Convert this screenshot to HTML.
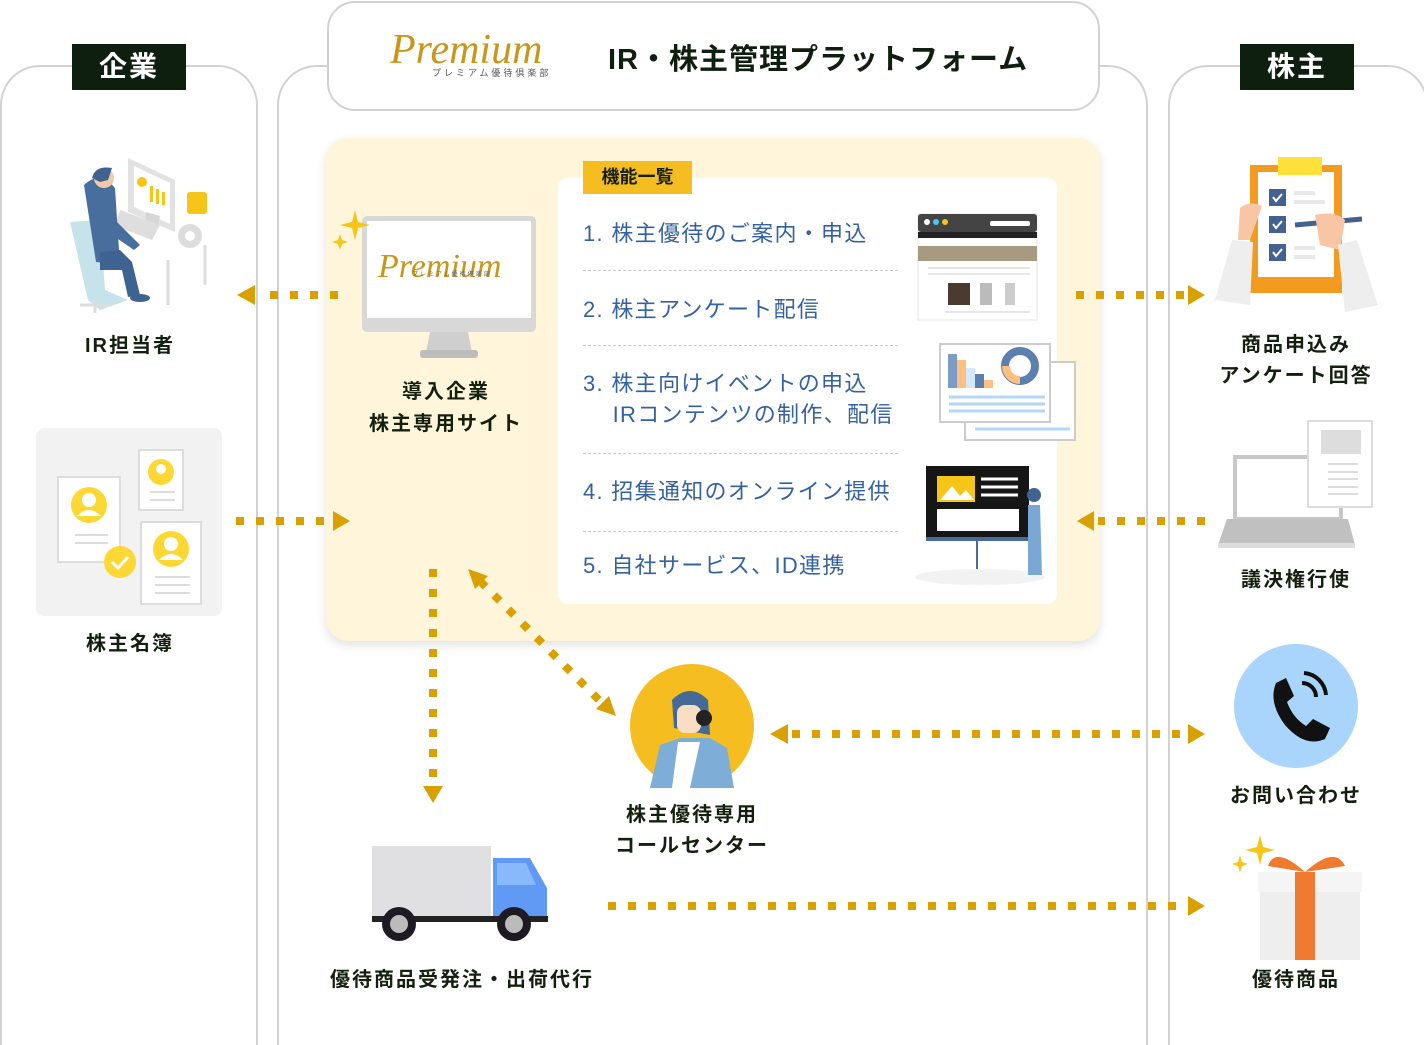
<!DOCTYPE html>
<html><head><meta charset="utf-8"><style>
*{margin:0;padding:0;box-sizing:border-box}
body{width:1424px;height:1040px;position:relative;background:#fff;font-family:"Liberation Sans","Noto Sans CJK JP",sans-serif;overflow:hidden}
.abs{position:absolute}
.col{position:absolute;border:2px solid #d2d2d2;border-bottom:none;border-radius:40px 40px 0 0;background:#fff}
.lbl{position:absolute;background:#0f1f0f;color:#fff;font-size:28px;font-weight:bold;text-align:center;line-height:46px;letter-spacing:2px}
.t{position:absolute;font-size:20px;font-weight:bold;color:#14200f;text-align:center;line-height:32px;letter-spacing:2px;white-space:nowrap}
.it{position:absolute;left:583px;font-size:22px;color:#3461a0;line-height:31px;letter-spacing:1.3px;white-space:nowrap}
.dl{position:absolute;left:583px;width:315px;border-top:1.5px dashed #c8c8c8}
</style></head><body>
<div class="col" style="left:0;top:65px;width:258px;height:980px"></div>
<div class="col" style="left:277px;top:65px;width:871px;height:980px"></div>
<div class="col" style="left:1168px;top:65px;width:260px;height:980px"></div>
<div class="lbl" style="left:72px;top:44px;width:114px">企業</div>
<div class="lbl" style="left:1240px;top:44px;width:114px">株主</div>

<div class="abs" style="left:327px;top:1px;width:773px;height:110px;border:2px solid #d2d2d2;border-radius:28px;background:#fff"></div>
<div class="abs" style="left:390px;top:26px;font-family:'Liberation Serif',serif;font-style:italic;font-size:42px;color:#c9961a;letter-spacing:0px">Premium</div>
<div class="abs" style="left:432px;top:66px;font-size:9px;color:#555;letter-spacing:3px">プレミアム優待倶楽部</div>
<div class="abs" style="left:608px;top:36px;font-size:29px;font-weight:bold;color:#0f1f0f;letter-spacing:1px">IR・株主管理プラットフォーム</div>

<div class="abs" style="left:326px;top:138px;width:774px;height:503px;background:#fff5da;border-radius:22px;box-shadow:0 4px 10px rgba(0,0,0,0.12)"></div>
<div class="abs" style="left:558px;top:178px;width:499px;height:426px;background:#fff;border-radius:10px"></div>
<div class="abs" style="left:583px;top:161px;width:109px;height:33px;background:#f5bd1f;font-size:18px;font-weight:bold;color:#14200f;text-align:center;line-height:33px">機能一覧</div>
<div class="it" style="top:218px">1. 株主優待のご案内・申込</div>
<div class="dl" style="top:270px"></div>
<div class="it" style="top:294px">2. 株主アンケート配信</div>
<div class="dl" style="top:345px"></div>
<div class="it" style="top:368px">3. 株主向けイベントの申込<br>&nbsp;&nbsp;&nbsp;&nbsp;IRコンテンツの制作、配信</div>
<div class="dl" style="top:453px"></div>
<div class="it" style="top:476px">4. 招集通知のオンライン提供</div>
<div class="dl" style="top:531px"></div>
<div class="it" style="top:550px">5. 自社サービス、ID連携</div>

<svg class="abs" style="left:0;top:0" width="1424" height="1040">
<g fill="#d8a000">
<line x1="338" y1="295" x2="258" y2="295" stroke="#d8a000" stroke-width="8" stroke-dasharray="8 12"/>
<polygon points="237,295 255,285 255,305"/>
<line x1="236" y1="521" x2="326" y2="521" stroke="#d8a000" stroke-width="8" stroke-dasharray="8 12"/>
<polygon points="350,521 333,511 333,531"/>
<line x1="1076" y1="295" x2="1186" y2="295" stroke="#d8a000" stroke-width="8" stroke-dasharray="8 12"/>
<polygon points="1205,295 1188,285 1188,305"/>
<line x1="1205" y1="521" x2="1098" y2="521" stroke="#d8a000" stroke-width="8" stroke-dasharray="8 12"/>
<polygon points="1077,521 1094,511 1094,531"/>
<line x1="433" y1="569" x2="433" y2="780" stroke="#d8a000" stroke-width="8" stroke-dasharray="8 12"/>
<polygon points="433,803 423,786 443,786"/>
<line x1="480" y1="581" x2="604" y2="705" stroke="#d8a000" stroke-width="8" stroke-dasharray="8 12"/>
<polygon points="468,569 488,576 475,589"/>
<polygon points="616,716 596,709 609,696"/>
<line x1="792" y1="734" x2="1186" y2="734" stroke="#d8a000" stroke-width="8" stroke-dasharray="8 12"/>
<polygon points="770,734 788,724 788,744"/>
<polygon points="1205,734 1188,724 1188,744"/>
<line x1="608" y1="906" x2="1186" y2="906" stroke="#d8a000" stroke-width="8" stroke-dasharray="8 12"/>
<polygon points="1205,906 1188,896 1188,916"/>
</g>
<!-- IR person -->
<polygon points="128,158 175,180 175,232 128,212" fill="#e2e2e2"/>
<polygon points="134,166 170,183 170,224 134,207" fill="#fff"/>
<circle cx="142" cy="182" r="5" fill="#f5c518"/>
<rect x="150" y="186" width="3" height="16" fill="#f5c518"/><rect x="156" y="189" width="3" height="15" fill="#f5c518"/><rect x="162" y="192" width="3" height="13" fill="#f5c518"/>
<polygon points="146,212 160,216 158,226 146,222" fill="#d6d6d6"/>
<rect x="187" y="192" width="20" height="22" rx="3" fill="#f5c518"/>
<circle cx="190" cy="236" r="12" fill="#ddd"/><circle cx="190" cy="236" r="5" fill="#fff"/>
<polygon points="120,210 160,225 152,240 115,226" fill="#dedede"/>
<path d="M70 222 L100 220 L105 290 L128 300 L100 310 L88 300Z" fill="#c6e2ea"/>
<path d="M84 185 Q100 170 115 188 L120 265 L96 262Z" fill="#486e9e"/>
<path d="M110 215 L140 245 L134 250 L108 232Z" fill="#486e9e"/>
<circle cx="104" cy="178" r="10" fill="#f3c9a8"/><path d="M92 178 Q95 165 112 168 L108 180 L100 182Z" fill="#3f6391"/>
<path d="M100 252 L120 250 L132 262 L140 295 L128 297 L122 270 L100 270Z" fill="#3f6391"/>
<ellipse cx="140" cy="298" rx="10" ry="4" fill="#3f6391"/>
<g stroke="#ddd" stroke-width="3"><line x1="95" y1="300" x2="95" y2="313"/><line x1="80" y1="305" x2="112" y2="305"/><line x1="168" y1="260" x2="168" y2="305"/><line x1="205" y1="245" x2="205" y2="285"/></g>
<!-- shareholder registry -->
<rect x="36" y="428" width="186" height="188" rx="8" fill="#f2f2f2"/>
<rect x="58" y="477" width="62" height="85" fill="#fff" stroke="#ddd" stroke-width="2"/>
<circle cx="89" cy="505" r="18" fill="#fdd835"/><circle cx="89" cy="500" r="7" fill="#fff"/><path d="M77 516 Q89 504 101 516Z" fill="#fff"/>
<rect x="139" y="450" width="44" height="60" fill="#fff" stroke="#ddd" stroke-width="2"/>
<circle cx="161" cy="472" r="13" fill="#fdd835"/><circle cx="161" cy="469" r="5" fill="#fff"/>
<rect x="141" y="522" width="60" height="82" fill="#fff" stroke="#ddd" stroke-width="2"/>
<circle cx="171" cy="549" r="18" fill="#fdd835"/><circle cx="171" cy="544" r="7" fill="#fff"/><path d="M159 560 Q171 548 183 560Z" fill="#fff"/>
<g stroke="#ddd" stroke-width="2"><line x1="75" y1="535" x2="108" y2="535"/><line x1="75" y1="543" x2="108" y2="543"/><line x1="155" y1="577" x2="190" y2="577"/><line x1="155" y1="585" x2="190" y2="585"/><line x1="155" y1="593" x2="190" y2="593"/><line x1="150" y1="492" x2="175" y2="492"/><line x1="150" y1="500" x2="175" y2="500"/></g>
<circle cx="120" cy="562" r="16" fill="#fdd835"/><path d="M112 562 L118 568 L128 557" stroke="#fff" stroke-width="3" fill="none"/>
<!-- monitor -->
<rect x="362" y="216" width="174" height="116" rx="5" fill="#d8d8d8"/>
<rect x="367" y="221" width="164" height="97" fill="#fff"/>
<path d="M430 332 L468 332 L472 352 L426 352Z" fill="#cfcfcf"/>
<rect x="420" y="350" width="58" height="8" rx="3" fill="#bdbdbd"/>
<text x="378" y="277" font-family="Liberation Serif,serif" font-style="italic" font-size="34" fill="#c9961a">Premium</text>
<text x="412" y="276" font-size="6" fill="#666" letter-spacing="2">プレミアム優待倶楽部</text>
<path d="M355 210 L358 222 L370 225 L358 228 L355 240 L352 228 L340 225 L352 222Z" fill="#f5c518"/>
<path d="M340 234 L342 240 L348 242 L342 244 L340 250 L338 244 L332 242 L338 240Z" fill="#f5c518"/>
<!-- browser -->
<rect x="918" y="214" width="119" height="106" fill="#fff" stroke="#e4e4e4"/>
<rect x="918" y="214" width="119" height="18" rx="3" fill="#444"/><rect x="918" y="232" width="119" height="6" fill="#222"/>
<circle cx="927" cy="222" r="3" fill="#fff"/><circle cx="936" cy="222" r="3" fill="#4fc3f7"/><circle cx="945" cy="222" r="3" fill="#f5c518"/>
<rect x="990" y="221" width="40" height="5" rx="2" fill="#fff"/>
<rect x="918" y="246" width="119" height="15" fill="#a89a80"/>
<rect x="948" y="283" width="22" height="22" fill="#4a3a30"/><rect x="980" y="283" width="12" height="22" fill="#bbb"/><rect x="1005" y="283" width="10" height="22" fill="#ccc"/>
<g stroke="#ccc" stroke-width="1"><line x1="928" y1="268" x2="1030" y2="268"/><line x1="928" y1="274" x2="1030" y2="274"/><line x1="945" y1="312" x2="1030" y2="312"/></g>
<!-- charts -->
<rect x="965" y="362" width="110" height="78" fill="#fff" stroke="#ccc" stroke-width="2"/>
<rect x="940" y="344" width="110" height="78" fill="#fff" stroke="#ccc" stroke-width="2"/>
<rect x="948" y="354" width="9" height="34" fill="#7c9cc4"/><rect x="957" y="360" width="9" height="28" fill="#ffbf80"/><rect x="966" y="368" width="9" height="20" fill="#d5e8fb"/><rect x="975" y="374" width="9" height="14" fill="#5b7fae"/><rect x="984" y="380" width="9" height="8" fill="#ffbf80"/>
<circle cx="1020" cy="366" r="15" fill="none" stroke="#5b7fae" stroke-width="8"/><path d="M1006 366 A14 14 0 0 0 1020 380" stroke="#ffbf80" stroke-width="8" fill="none"/>
<g stroke="#b3d6fb" stroke-width="3"><line x1="949" y1="397" x2="1045" y2="397"/><line x1="949" y1="404" x2="1045" y2="404"/><line x1="949" y1="411" x2="1045" y2="411"/><line x1="975" y1="429" x2="1070" y2="429"/></g>
<!-- board -->
<rect x="926" y="466" width="103" height="73" fill="#161616"/><rect x="926" y="537" width="103" height="4" fill="#4a6a99"/>
<rect x="937" y="476" width="38" height="26" fill="#f5c518"/><path d="M940 500 L952 486 L960 496 L966 490 L974 500Z" fill="#fff"/>
<g stroke="#fff" stroke-width="3"><line x1="981" y1="479" x2="1018" y2="479"/><line x1="981" y1="487" x2="1018" y2="487"/><line x1="981" y1="495" x2="1018" y2="495"/></g>
<rect x="937" y="509" width="82" height="22" fill="#fff"/>
<line x1="977" y1="541" x2="977" y2="574" stroke="#4a6a99" stroke-width="2"/>
<ellipse cx="980" cy="577" rx="65" ry="8" fill="#f2f2f2"/>
<path d="M1028 505 L1040 505 L1042 575 L1028 575Z" fill="#7ba7d4"/><circle cx="1034" cy="495" r="7" fill="#3f6391"/>
<!-- clipboard -->
<rect x="1250" y="165" width="92" height="128" fill="#f29b1e"/><rect x="1258" y="172" width="76" height="105" fill="#fff"/><rect x="1278" y="157" width="44" height="18" fill="#fde03a"/>
<g fill="#43628f"><rect x="1269" y="189" width="17" height="17"/><rect x="1269" y="216" width="17" height="17"/><rect x="1269" y="244" width="17" height="17"/></g>
<g stroke="#fff" stroke-width="2" fill="none"><path d="M1273 197 L1276 201 L1282 194"/><path d="M1273 224 L1276 228 L1282 221"/><path d="M1273 252 L1276 256 L1282 249"/></g>
<g stroke="#e8e8e8" stroke-width="4"><line x1="1294" y1="193" x2="1315" y2="193"/><line x1="1294" y1="202" x2="1325" y2="202"/><line x1="1294" y1="248" x2="1315" y2="248"/><line x1="1294" y1="257" x2="1315" y2="257"/></g>
<line x1="1295" y1="225" x2="1362" y2="219" stroke="#43628f" stroke-width="5"/>
<path d="M1240 208 Q1250 200 1262 206 L1250 240 L1238 240Z" fill="#f8c6a4"/>
<path d="M1215 300 L1232 240 L1253 242 L1250 305Z" fill="#eee"/>
<path d="M1315 215 Q1335 210 1345 220 L1340 250 L1320 245Z" fill="#f8c6a4"/>
<path d="M1338 245 L1357 240 L1378 305 L1345 312Z" fill="#eee"/>
<!-- laptop -->
<rect x="1235" y="457" width="106" height="62" fill="#fff" stroke="#c8c8c8" stroke-width="4"/>
<path d="M1227 519 L1348 519 L1355 545 L1218 545Z" fill="#c0c0c0"/><rect x="1218" y="543" width="137" height="5" fill="#ddd"/>
<rect x="1308" y="421" width="64" height="86" fill="#fff" stroke="#ddd" stroke-width="2"/><rect x="1321" y="430" width="40" height="24" fill="#ddd"/>
<g stroke="#ddd" stroke-width="2"><line x1="1328" y1="464" x2="1358" y2="464"/><line x1="1328" y1="472" x2="1358" y2="472"/><line x1="1328" y1="479" x2="1358" y2="479"/><line x1="1328" y1="487" x2="1358" y2="487"/><line x1="1328" y1="494" x2="1358" y2="494"/></g>
<!-- phone -->
<circle cx="1296" cy="706" r="62" fill="#a9d4fc"/>
<path d="M1276 683 L1286 678 L1294 696 L1287 702 Q1293 718 1306 726 L1313 719 L1330 728 L1325 739 Q1305 748 1285 725 Q1268 702 1276 683Z" fill="#111"/>
<path d="M1302 683 A14 14 0 0 1 1316 697 M1304 673 A24 24 0 0 1 1326 695" stroke="#111" stroke-width="4" fill="none"/>
<!-- gift -->
<rect x="1260" y="886" width="100" height="74" fill="#eee"/><rect x="1258" y="872" width="104" height="20" fill="#f5f5f5"/>
<rect x="1295" y="872" width="20" height="88" fill="#f07a30"/>
<path d="M1305 872 Q1275 845 1268 866Z M1305 872 Q1335 845 1345 866Z" fill="#f07a30"/>
<path d="M1260 835 L1263 847 L1275 850 L1263 853 L1260 865 L1257 853 L1245 850 L1257 847Z" fill="#f5c518"/>
<path d="M1240 855 L1242 862 L1248 864 L1242 866 L1240 872 L1238 866 L1232 864 L1238 862Z" fill="#f5c518"/>
<!-- call center -->
<circle cx="692" cy="726" r="62" fill="#f5bd1f"/>
<path d="M650 788 L660 745 L680 738 L710 738 L727 748 L734 788Z" fill="#7eadd8"/>
<path d="M672 788 L678 742 L700 742 L690 788Z" fill="#fff"/>
<path d="M672 700 Q690 682 708 700 L710 735 L674 728Z" fill="#456a98"/>
<rect x="677" y="705" width="24" height="28" rx="8" fill="#fadec4"/>
<circle cx="704" cy="718" r="8" fill="#222"/>
<!-- truck -->
<rect x="372" y="846" width="119" height="70" fill="#e0dfe2"/>
<path d="M493 858 L530 858 L547 888 L547 916 L493 916Z" fill="#619af5"/><path d="M497 863 L526 863 L536 885 L497 885Z" fill="#89b8fb"/>
<rect x="372" y="916" width="176" height="6" fill="#222"/>
<circle cx="399" cy="924" r="17" fill="#1e1a24"/><circle cx="399" cy="924" r="9" fill="#bbb"/>
<circle cx="514" cy="924" r="17" fill="#1e1a24"/><circle cx="514" cy="924" r="9" fill="#bbb"/>
</svg>

<div class="t" style="left:30px;width:200px;top:330px">IR担当者</div>
<div class="t" style="left:30px;width:200px;top:628px">株主名簿</div>
<div class="t" style="left:346px;width:200px;top:376px">導入企業<br>株主専用サイト</div>
<div class="t" style="left:1196px;width:200px;top:330px;line-height:31px">商品申込み<br>アンケート回答</div>
<div class="t" style="left:1196px;width:200px;top:564px">議決権行使</div>
<div class="t" style="left:1196px;width:200px;top:780px">お問い合わせ</div>
<div class="t" style="left:1196px;width:200px;top:964px">優待商品</div>
<div class="t" style="left:592px;width:200px;top:800px;line-height:31px">株主優待専用<br>コールセンター</div>
<div class="t" style="left:312px;width:300px;top:964px">優待商品受発注・出荷代行</div>
</body></html>
